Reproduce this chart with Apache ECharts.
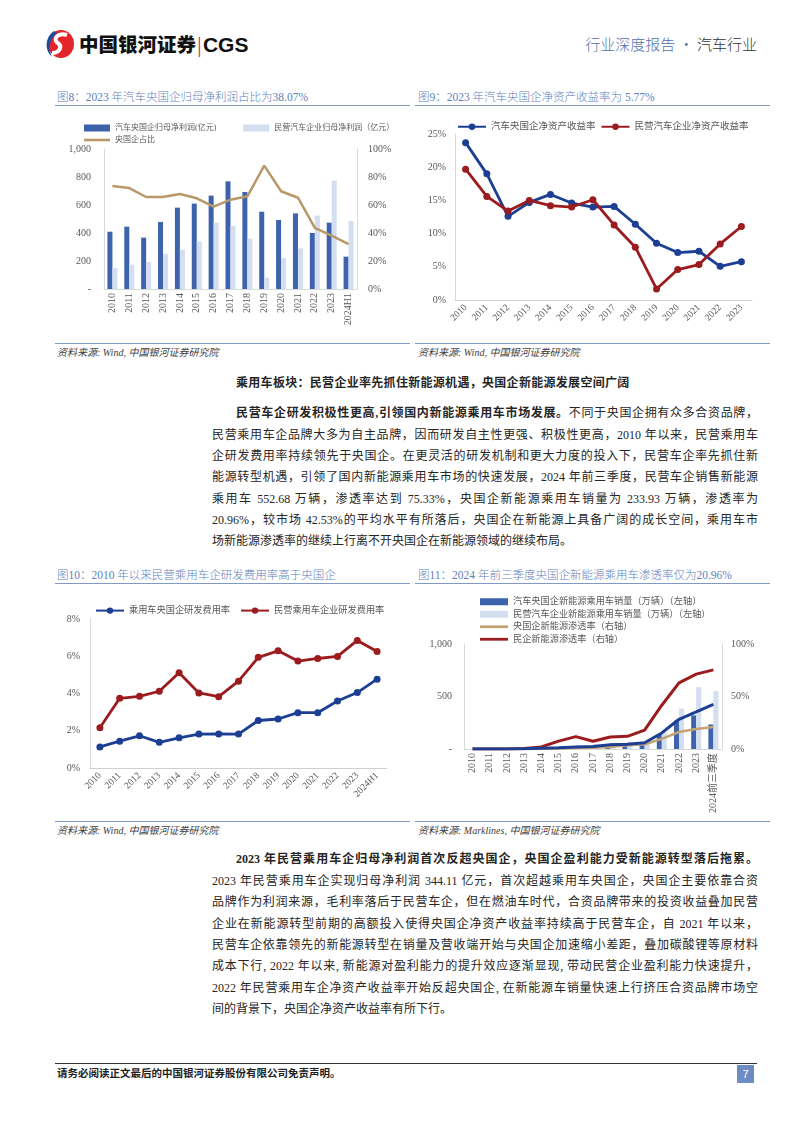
<!DOCTYPE html>
<html><head><meta charset="utf-8">
<script src="https://cdn.jsdelivr.net/npm/echarts@6.0.0/dist/echarts.min.js"></script>
<style>
html,body{margin:0;padding:0;background:#fff;}
body{width:794px;height:1123px;position:relative;overflow:hidden;font-family:"Liberation Serif","Noto Sans CJK SC",serif;color:#262626;}
.abs{position:absolute;}
.ftitle{position:absolute;font-family:"Liberation Serif","Noto Sans CJK SC";font-weight:300;font-size:11.5px;color:#5f7fbb;white-space:nowrap;line-height:14px;}
.hline{position:absolute;height:0;border-top:1.5px solid #8099c6;}
.src{position:absolute;font-style:italic;font-size:10px;color:#404040;white-space:nowrap;line-height:12px;font-family:"Liberation Serif","Noto Sans CJK SC";}
.ln{position:absolute;left:212px;width:546px;height:21.4px;line-height:21.4px;font-size:12px;text-align:justify;text-align-last:justify;white-space:nowrap;}
.ln.last{text-align-last:left;}
.ind{padding-left:24px;box-sizing:border-box;}
b{font-weight:700;}
.chart{position:absolute;}
</style></head>
<body>
<!-- header -->
<svg class="abs" style="left:43px;top:29px" width="32" height="30" viewBox="0 0 32 30">
  <ellipse cx="18" cy="15" rx="13" ry="14" fill="#e3262c"/>
  <path d="M24 6 C15 3 9 10 15 14 C20 18 16 24 9 24" stroke="#fff" stroke-width="4" fill="none"/>
  <path d="M11 2 C2 8 1 21 9 28 C5 20 6 10 14 4 Z" fill="#1c4ea0"/>
</svg>
<div class="abs" style="left:79px;top:30px;font-family:'Noto Sans CJK SC';font-weight:900;font-size:19.5px;line-height:28px;color:#111;white-space:nowrap;">中国银河证券<span style="font-weight:400;color:#d33;font-size:18px;margin:0 1px;">|</span><span style="font-family:'Liberation Sans';font-weight:700;font-size:21px;">CGS</span></div>
<div class="abs" style="right:37px;top:34px;font-family:'Noto Sans CJK SC';font-weight:300;font-size:15px;line-height:20px;white-space:nowrap;"><span style="color:#4f6fa8">行业深度报告 · </span><span style="color:#333">汽车行业</span></div>

<!-- figure titles row 1 -->
<div class="ftitle" style="left:57px;top:90px;">图8：2023 年汽车央国企归母净利润占比为38.07%</div>
<div class="ftitle" style="left:418px;top:90px;">图9：2023 年汽车央国企净资产收益率为 5.77%</div>
<div class="hline" style="left:55px;width:355px;top:105px;"></div>
<div class="hline" style="left:415px;width:355px;top:105px;"></div>
<div id="c1" class="chart" style="left:55px;top:106px;width:355px;height:236px;"></div>
<div id="c2" class="chart" style="left:415px;top:106px;width:355px;height:236px;"></div>
<div class="hline" style="left:55px;width:355px;top:343px;"></div>
<div class="hline" style="left:415px;width:355px;top:343px;"></div>
<div class="src" style="left:57px;top:347px;">资料来源: Wind, 中国银河证券研究院</div>
<div class="src" style="left:418px;top:347px;">资料来源: Wind, 中国银河证券研究院</div>

<!-- paragraph 1 -->
<div class="ln ind" style="top:373.3px;text-align-last:left;letter-spacing:0.3px;"><b>乘用车板块：民营企业率先抓住新能源机遇，央国企新能源发展空间广阔</b></div>
<div class="ln ind" style="top:403.3px;"><b>民营车企研发积极性更高,引领国内新能源乘用车市场发展。</b>不同于央国企拥有众多合资品牌，</div>
<div class="ln" style="top:424.6px;">民营乘用车企品牌大多为自主品牌，因而研发自主性更强、积极性更高，2010 年以来，民营乘用车</div>
<div class="ln" style="top:445.9px;">企研发费用率持续领先于央国企。在更灵活的研发机制和更大力度的投入下，民营车企率先抓住新</div>
<div class="ln" style="top:467.2px;">能源转型机遇，引领了国内新能源乘用车市场的快速发展，2024 年前三季度，民营车企销售新能源</div>
<div class="ln" style="top:488.5px;">乘用车 552.68 万辆，渗透率达到 75.33%，央国企新能源乘用车销量为 233.93 万辆，渗透率为</div>
<div class="ln" style="top:509.8px;">20.96%，较市场 42.53%的平均水平有所落后，央国企在新能源上具备广阔的成长空间，乘用车市</div>
<div class="ln last" style="top:531.1px;">场新能源渗透率的继续上行离不开央国企在新能源领域的继续布局。</div>

<!-- figure titles row 2 -->
<div class="ftitle" style="left:57px;top:568px;">图10：2010 年以来民营乘用车企研发费用率高于央国企</div>
<div class="ftitle" style="left:418px;top:568px;">图11：2024 年前三季度央国企新能源乘用车渗透率仅为20.96%</div>
<div class="hline" style="left:55px;width:355px;top:583px;"></div>
<div class="hline" style="left:415px;width:355px;top:583px;"></div>
<div id="c3" class="chart" style="left:55px;top:585px;width:355px;height:236px;"></div>
<div id="c4" class="chart" style="left:415px;top:585px;width:355px;height:236px;"></div>
<div class="hline" style="left:55px;width:355px;top:821px;"></div>
<div class="hline" style="left:415px;width:355px;top:821px;"></div>
<div class="src" style="left:57px;top:825px;">资料来源: Wind, 中国银河证券研究院</div>
<div class="src" style="left:418px;top:825px;">资料来源: Marklines, 中国银河证券研究院</div>

<!-- paragraph 2 -->
<div class="ln ind" style="top:849.3px;"><b>2023 年民营乘用车企归母净利润首次反超央国企，央国企盈利能力受新能源转型落后拖累。</b></div>
<div class="ln" style="top:870.7px;">2023 年民营乘用车企实现归母净利润 344.11 亿元，首次超越乘用车央国企，央国企主要依靠合资</div>
<div class="ln" style="top:892.1px;">品牌作为利润来源，毛利率落后于民营车企，但在燃油车时代，合资品牌带来的投资收益叠加民营</div>
<div class="ln" style="top:913.5px;">企业在新能源转型前期的高额投入使得央国企净资产收益率持续高于民营车企，自 2021 年以来，</div>
<div class="ln" style="top:934.9px;">民营车企依靠领先的新能源转型在销量及营收端开始与央国企加速缩小差距，叠加碳酸锂等原材料</div>
<div class="ln" style="top:956.3px;">成本下行, 2022 年以来, 新能源对盈利能力的提升效应逐渐显现, 带动民营企业盈利能力快速提升，</div>
<div class="ln" style="top:977.7px;">2022 年民营乘用车企净资产收益率开始反超央国企, 在新能源车销量快速上行挤压合资品牌市场空</div>
<div class="ln last" style="top:999.1px;">间的背景下，央国企净资产收益率有所下行。</div>

<!-- footer -->
<div class="abs" style="left:55px;top:1063px;width:702px;border-top:1px solid #333;"></div>
<div class="abs" style="left:57px;top:1067px;font-size:10.5px;font-weight:700;line-height:14px;white-space:nowrap;color:#222;">请务必阅读正文最后的中国银河证券股份有限公司免责声明。</div>
<div class="abs" style="left:737px;top:1065px;width:17px;height:18px;background:#6d8bc4;color:#fff;font-size:11px;line-height:18px;text-align:center;font-family:'Liberation Sans';">7</div>

<script>
// ---------- data ----------
const years1 = ['2010','2011','2012','2013','2014','2015','2016','2017','2018','2019','2020','2021','2022','2023','2024H1'];
const soeProfit = [409,445,367,479,581,610,667,769,693,552,493,540,400,474,231];
const privProfit = [150,174,193,252,281,340,474,450,360,81,221,290,524,774,486];
const soeShare = [73.6,72.1,65.7,65.7,67.9,64.8,58.8,63.8,66.2,88.1,69.8,65.2,43.6,38.07,32.1];
const ticks1Left = [0,200,400,600,800,1000];

const years2 = ['2010','2011','2012','2013','2014','2015','2016','2017','2018','2019','2020','2021','2022','2023'];
const soeRoe = [23.7,19.0,12.6,14.7,15.9,14.6,14.0,14.1,11.4,8.55,7.14,7.34,5.08,5.77];
const privRoe = [19.7,15.6,13.4,15.0,14.2,14.0,15.1,11.3,7.95,1.66,4.58,5.33,8.45,11.07];

const years3 = ['2010','2011','2012','2013','2014','2015','2016','2017','2018','2019','2020','2021','2022','2023','2024H1'];
const soeRd = [1.13,1.44,1.73,1.38,1.62,1.82,1.83,1.82,2.55,2.63,2.97,2.97,3.60,4.05,4.77];
const privRd = [2.16,3.74,3.85,4.12,5.11,4.03,3.83,4.66,5.94,6.29,5.74,5.88,5.99,6.85,6.26];

const years4 = ['2010','2011','2012','2013','2014','2015','2016','2017','2018','2019','2020','2021','2022','2023','2024前三季度'];
const soeNev = [0,0,0,1,2,5,10,15,30,35,40,140,270,320,233.93];
const privNev = [0,0,0,1,5,25,40,45,60,70,70,160,385,589,552.68];
const soePen = [0,0,0,0,0.3,0.5,1,1.3,1.9,3.5,4.5,9.6,16.2,19.0,20.96];
const privPen = [0,0,0,0.5,2.0,7.5,11.8,7.4,11.5,12.1,18.0,41.7,63,71.3,75.33];
const mktPen = [0,0,0,0.3,0.8,1.3,2,2.3,4.0,4.6,6.0,15.3,28.3,35.4,42.53];

// ---------- styles ----------
const FF = 'Liberation Serif, Noto Sans CJK SC';
const GR = '#595959';
const AX = '#d9d9d9';
const NAVY = '#1c3f94', RED = '#9b1b1e', TAN = '#b99868';
const BAR1 = '#3d63ad', BAR2 = '#d3def1';
const LINE_ICON = 'path://M0,0 L28,0 L28,2.8 L0,2.8 Z';
const lbl = (o) => Object.assign({color:GR,fontSize:10,fontFamily:FF}, o||{});
const fmtNum = v => v === 0 ? '-' : v.toLocaleString('en-US');

// ---------- chart 1 ----------
const c1 = echarts.init(document.getElementById('c1'));
c1.setOption({
  animation:false,
  grid:{left:49,right:53,top:43,bottom:53},
  legend:[
    {left:24,top:13,itemWidth:26,itemHeight:7,itemGap:27,icon:'rect',textStyle:{fontSize:8,color:GR,fontFamily:FF},
     data:['汽车央国企归母净利润(亿元)','民营汽车企业归母净利润（亿元）']},
    {left:24,top:25,itemWidth:26,itemHeight:7,symbolKeepAspect:true,textStyle:{fontSize:8,color:GR,fontFamily:FF},
     data:[{name:'央国企占比',icon:LINE_ICON}]}
  ],
  xAxis:{type:'category',data:years1,axisTick:{show:false},axisLine:{lineStyle:{color:AX}},
    axisLabel:lbl({rotate:90,interval:0,margin:4})},
  yAxis:[
    {type:'value',min:ticks1Left[0],max:ticks1Left[ticks1Left.length-1],interval:200,axisLine:{show:true,lineStyle:{color:AX}},
     splitLine:{show:false},axisTick:{show:false},axisLabel:lbl({formatter:fmtNum,margin:13})},
    {type:'value',min:0,max:100,interval:20,position:'right',axisLine:{show:true,lineStyle:{color:AX}},
     splitLine:{show:false},axisTick:{show:false},axisLabel:lbl({formatter:'{value}%',margin:11})}
  ],
  series:[
    {name:'汽车央国企归母净利润(亿元)',type:'bar',data:soeProfit,barWidth:5,barGap:'0%',itemStyle:{color:BAR1}},
    {name:'民营汽车企业归母净利润（亿元）',type:'bar',data:privProfit,barWidth:5,barGap:'0%',itemStyle:{color:BAR2}},
    {name:'央国企占比',type:'line',yAxisIndex:1,data:soeShare,symbol:'none',lineStyle:{color:TAN,width:2.5},itemStyle:{color:TAN}}
  ]
});

// ---------- chart 2 ----------
const c2 = echarts.init(document.getElementById('c2'));
c2.setOption({
  animation:false,
  grid:{left:40,right:18,top:28,bottom:42},
  legend:{left:37,top:11,itemWidth:28,itemHeight:8,itemGap:5,textStyle:{fontSize:9.5,color:GR,fontFamily:FF},
    data:['汽车央国企净资产收益率','民营汽车企业净资产收益率']},
  xAxis:{type:'category',data:years2,axisTick:{show:false},axisLine:{lineStyle:{color:'#cfcfcf'}},
    axisLabel:lbl({rotate:45,interval:0,fontSize:9.5,margin:6})},
  yAxis:{type:'value',min:0,max:25,interval:5,axisLine:{show:true,lineStyle:{color:AX}},splitLine:{show:false},
    axisTick:{show:false},axisLabel:lbl({formatter:'{value}%',margin:9})},
  series:[
    {name:'汽车央国企净资产收益率',type:'line',data:soeRoe,symbol:'circle',symbolSize:7,lineStyle:{color:NAVY,width:2.8},itemStyle:{color:NAVY}},
    {name:'民营汽车企业净资产收益率',type:'line',data:privRoe,symbol:'circle',symbolSize:7,lineStyle:{color:RED,width:2.8},itemStyle:{color:RED}}
  ]
});

// ---------- chart 3 ----------
const c3 = echarts.init(document.getElementById('c3'));
c3.setOption({
  animation:false,
  grid:{left:35,right:23,top:34,bottom:53},
  legend:{left:35,top:16,itemWidth:28,itemHeight:8,itemGap:10,textStyle:{fontSize:9.2,color:GR,fontFamily:FF},
    data:['乘用车央国企研发费用率','民营乘用车企业研发费用率']},
  xAxis:{type:'category',data:years3,axisTick:{show:false},axisLine:{lineStyle:{color:'#cfcfcf'}},
    axisLabel:lbl({rotate:45,interval:0,fontSize:9.5,margin:6})},
  yAxis:{type:'value',min:0,max:8,interval:2,axisLine:{show:true,lineStyle:{color:AX}},splitLine:{show:false},
    axisTick:{show:false},axisLabel:lbl({formatter:'{value}%',margin:10})},
  series:[
    {name:'乘用车央国企研发费用率',type:'line',data:soeRd,symbol:'circle',symbolSize:7,lineStyle:{color:NAVY,width:2.8},itemStyle:{color:NAVY}},
    {name:'民营乘用车企业研发费用率',type:'line',data:privRd,symbol:'circle',symbolSize:7,lineStyle:{color:RED,width:2.8},itemStyle:{color:RED}}
  ]
});

// ---------- chart 4 ----------
const c4 = echarts.init(document.getElementById('c4'));
c4.setOption({
  animation:false,
  grid:{left:49,right:48,top:59,bottom:72},
  legend:{orient:'vertical',left:60,top:6,itemWidth:28,itemHeight:7,itemGap:1,symbolKeepAspect:true,
    textStyle:{fontSize:9.2,color:GR,fontFamily:FF,lineHeight:11.5},
    data:[{name:'汽车央国企新能源乘用车销量（万辆）（左轴）',icon:'rect'},{name:'民营汽车企业新能源乘用车销量（万辆）（左轴）',icon:'rect'},
          {name:'央国企新能源渗透率（右轴）',icon:LINE_ICON},{name:'民企新能源渗透率（右轴）',icon:LINE_ICON}]},
  xAxis:{type:'category',data:years4,axisTick:{show:false},axisLine:{lineStyle:{color:AX}},
    axisLabel:lbl({rotate:90,interval:0,margin:4})},
  yAxis:[
    {type:'value',min:0,max:1000,interval:500,axisLine:{show:true,lineStyle:{color:AX}},splitLine:{show:false},
     axisTick:{show:false},axisLabel:lbl({formatter:fmtNum,margin:12})},
    {type:'value',min:0,max:100,interval:50,position:'right',axisLine:{show:true,lineStyle:{color:AX}},splitLine:{show:false},
     axisTick:{show:false},axisLabel:lbl({formatter:'{value}%',margin:9})}
  ],
  series:[
    {name:'汽车央国企新能源乘用车销量（万辆）（左轴）',type:'bar',data:soeNev,barWidth:5,barGap:'0%',itemStyle:{color:BAR1}},
    {name:'民营汽车企业新能源乘用车销量（万辆）（左轴）',type:'bar',data:privNev,barWidth:5,barGap:'0%',itemStyle:{color:BAR2}},
    {name:'央国企新能源渗透率（右轴）',type:'line',yAxisIndex:1,data:soePen,symbol:'none',lineStyle:{color:'#c4a373',width:2.5},itemStyle:{color:'#c4a373'}},
    {name:'民企新能源渗透率（右轴）',type:'line',yAxisIndex:1,data:privPen,symbol:'none',lineStyle:{color:RED,width:3},itemStyle:{color:RED}},
    {name:'乘用车市场新能源渗透率',type:'line',yAxisIndex:1,data:mktPen,symbol:'none',lineStyle:{color:NAVY,width:3},itemStyle:{color:NAVY}}
  ]
});
</script>
</body></html>
